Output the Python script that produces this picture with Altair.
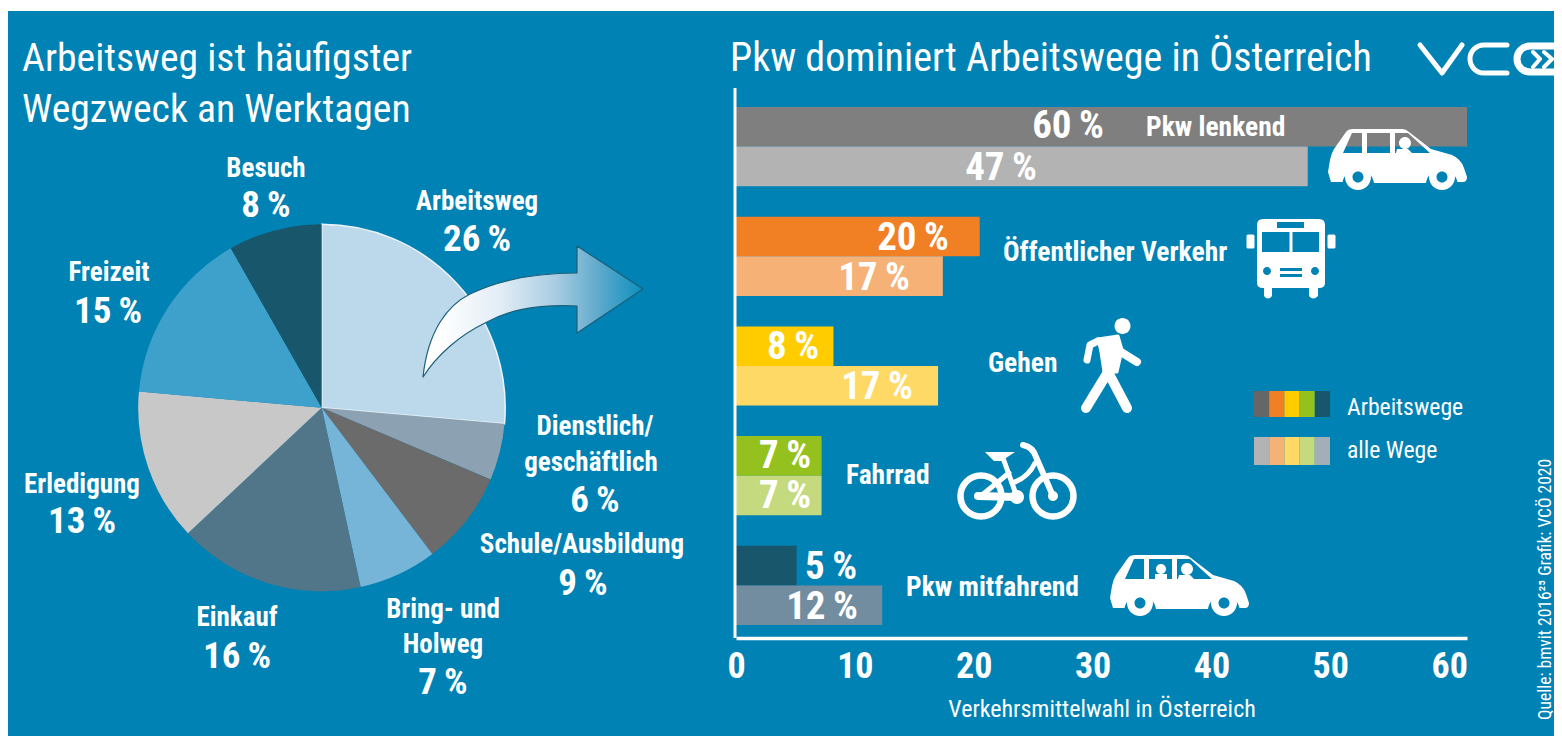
import altair as alt
import pandas as pd

BG = "#0082B4"
FONT = "Roboto Condensed, Roboto, sans-serif"
W = "#FFFFFF"
M = 8


def P(v):
    return v - M


# ---- pie data
slices = ["Arbeitsweg", "Dienstlich", "Schule", "Bring", "Einkauf", "Erledigung", "Freizeit", "Besuch"]
shares = [26.4, 5.0, 8.3, 6.9, 16.4, 13.4, 15.35, 8.25]
slice_colors = ["#BCD9EC", "#8CA2B2", "#6B6B6B", "#76B5D8", "#527689", "#C8C8C8", "#3DA1CC", "#18566C"]

# ---- bar data
modes = ["Pkw lenkend", "Öffentlicher Verkehr", "Gehen", "Fahrrad", "Pkw mitfahrend"]
kinds = ["Arbeitswege", "alle Wege"]
work_values = [61.5, 20.5, 8.2, 7.2, 5.1]
all_values = [48.1, 17.4, 17.0, 7.2, 12.3]
work_colors = ["#7F7F7F", "#F18024", "#FFCC00", "#95C11F", "#18566C"]
all_colors = ["#B3B3B3", "#F6B177", "#FFD966", "#C5D97E", "#728DA0"]
legend_work = ["#666666", "#F18024", "#FFCC00", "#95C11F", "#18566C"]
legend_all = ["#B3B3B3", "#F6B177", "#FFD966", "#C5D97E", "#A3AEB9"]
ticks = [0, 10, 20, 30, 40, 50, 60]

pie_df = pd.DataFrame({"key": slices, "share": shares, "idx": range(len(slices))})
bar_rows = []
for m, a, b in zip(modes, work_values, all_values):
    bar_rows.append({"mode": m, "kind": kinds[0], "value": a, "key": m + "|" + kinds[0]})
    bar_rows.append({"mode": m, "kind": kinds[1], "value": b, "key": m + "|" + kinds[1]})
bar_df = pd.DataFrame(bar_rows)

dom = slices + [m + "|" + k for m in modes for k in kinds]
rng = slice_colors + [c for p in zip(work_colors, all_colors) for c in p]
color_scale = alt.Scale(domain=dom, range=rng)


def txt(s, x, y, size, bold=False, align="left", angle=0):
    return alt.Chart().mark_text(
        text=s, font=FONT, fontSize=size, fontWeight="bold" if bold else "normal",
        color=W, align=align, baseline="alphabetic", angle=angle,
    ).encode(x=alt.value(P(x)), y=alt.value(P(y)))


def glyph(path, fill=None, stroke=None, sw=0, dx=0, dy=0, cap="round"):
    """Draws an SVG path written in image pixels (size 4 = scale 1)."""
    kw = dict(shape=path, size=4, opacity=1)
    if fill is not None:
        kw.update(filled=True, fill=fill)
    else:
        kw.update(filled=False, fill="transparent")
    if stroke is not None:
        kw.update(stroke=stroke, strokeWidth=sw, strokeCap=cap, strokeJoin="round")
    else:
        kw.update(strokeWidth=0)
    return alt.Chart().mark_point(**kw).encode(x=alt.value(P(dx)), y=alt.value(P(dy)))


def circ(x, y, r):
    return f"M{x-r} {y}A{r} {r} 0 1 1 {x+r} {y}A{r} {r} 0 1 1 {x-r} {y}Z"


layers = []

# top white strip
layers.append(alt.Chart().mark_rule(color=W, strokeWidth=6).encode(
    x=alt.value(0), x2=alt.value(1546), y=alt.value(0)))

# ---- pie
layers.append(alt.Chart(pie_df).mark_arc(outerRadius=183.5, stroke="#EAF4FA", strokeWidth=1.5).encode(
    theta=alt.Theta("share:Q", stack=True, scale=alt.Scale(domain=[0, 100], nice=False)),
    color=alt.Color("key:N", scale=color_scale, legend=None),
    order=alt.Order("idx:Q"),
    strokeOpacity=alt.condition("datum.key == 'Arbeitsweg'", alt.value(1), alt.value(0)),
    x=alt.value(P(321.7)), y=alt.value(P(407.7)),
))

# ---- arrow
arrow = alt.LinearGradient(
    gradient="linear", x1=0, x2=1, y1=0, y2=0,
    stops=[alt.GradientStop(color="#FFFFFF", offset=0.08),
           alt.GradientStop(color="#E2EDF6", offset=0.35),
           alt.GradientStop(color="#A9CDE2", offset=0.6),
           alt.GradientStop(color="#5FA9CC", offset=0.8),
           alt.GradientStop(color="#0A90BE", offset=1)])
layers.append(glyph("M423 377C428 330 448 305 470 294C505 277 545 273 577 273L577 246L643 289L577 333L577 306"
                    "C530 304 505 312 485 323C460 335 437 355 423 377Z",
                    fill=arrow, stroke="#1C5F78", sw=1.2))

# ---- bars and axis
layers.append(alt.Chart(bar_df).mark_bar().encode(
    x=alt.X("value:Q",
            scale=alt.Scale(domain=[0, 61.5], range=[P(736), P(1467)], nice=False, zero=True),
            axis=alt.Axis(values=ticks, grid=False, ticks=False, offset=P(638) - 728, domainColor=W, domainWidth=3.5,
                          labelColor=W, labelFont=FONT, labelFontWeight="bold", labelFontSize=36, labelPadding=11,
                          labelFlush=False, labelOverlap=False, labelBaseline="top", format="d",
                          title="Verkehrsmittelwahl in Österreich", titleColor=W, titleFont=FONT,
                          titleFontSize=24, titleFontWeight="normal", titlePadding=13)),
    y=alt.Y("mode:N", sort=modes,
            scale=alt.Scale(domain=modes, range=[P(107), P(625)], paddingInner=0.278, paddingOuter=0),
            axis=None),
    yOffset=alt.YOffset("kind:N", sort=kinds, scale=alt.Scale(domain=kinds, paddingInner=0, paddingOuter=0)),
    color=alt.Color("key:N", scale=color_scale, legend=None),
))
layers.append(alt.Chart().mark_rule(color=W, strokeWidth=3).encode(
    x=alt.value(P(735)), y=alt.value(P(88)), y2=alt.value(P(638))))

# ---- titles
layers += [
    txt("Arbeitsweg ist häufigster", 22, 71, 39.7),
    txt("Wegzweck an Werktagen", 22, 122, 39.7),
    txt("Pkw dominiert Arbeitswege in Österreich", 730, 71, 40),
]

# ---- pie labels
PCT = "\u2009%"
pie_labels = [
    ("Besuch", 266, 177), ("Arbeitsweg", 477, 210), ("Freizeit", 109, 281),
    ("Dienstlich/", 595, 435), ("geschäftlich", 591, 471), ("Schule/Ausbildung", 582, 553),
    ("Bring- und", 443, 618), ("Holweg", 443, 653), ("Einkauf", 237, 626), ("Erledigung", 82, 493),
]
pie_values = [
    ("8" + PCT, 266, 217), ("26" + PCT, 477, 251), ("15" + PCT, 108, 323), ("6" + PCT, 595, 512),
    ("9" + PCT, 583, 595), ("7" + PCT, 443, 694), ("16" + PCT, 237, 668), ("13" + PCT, 82, 533),
]
for s, x, y in pie_labels:
    layers.append(txt(s, x, y, 27, True, "center"))
for s, x, y in pie_values:
    layers.append(txt(s, x, y, 37, True, "center"))

# ---- bar labels
bar_values = [
    ("60" + PCT, 1068, 138), ("47" + PCT, 1001, 180), ("20" + PCT, 913, 250), ("17" + PCT, 874, 290),
    ("8" + PCT, 793, 359), ("17" + PCT, 877, 399), ("7" + PCT, 785, 468), ("7" + PCT, 785, 508),
    ("5" + PCT, 831, 579), ("12" + PCT, 822, 619),
]
for s, x, y in bar_values:
    layers.append(txt(s, x, y, 39, True, "center"))
cat_pos = [(1146, 136), (1003, 261), (988, 372), (846, 484), (906, 596)]
for s, (x, y) in zip(modes, cat_pos):
    layers.append(txt(s, x, y, 27.5, True))

# ---- legend
for cols, y0, y1, lab, by in [(legend_work, 391, 417, kinds[0], 415), (legend_all, 437, 465, kinds[1], 458)]:
    for i, c in enumerate(cols):
        layers.append(alt.Chart().mark_rect(color=c).encode(
            x=alt.value(P(1254 + i * 15.2)), x2=alt.value(P(1254 + (i + 1) * 15.2)),
            y=alt.value(P(y0)), y2=alt.value(P(y1))))
    layers.append(txt(lab, 1347, by, 23.7))

# ---- source
layers.append(txt("Quelle: bmvit 2016²⁵ Grafik: VCÖ 2020", 1551, 720, 17.5, False, "left", 270))

# ---- logo
layers.append(glyph("M1420 45L1442 73L1462 45", stroke=W, sw=5))
layers.append(glyph("M1507 45L1484 45A14 14 0 0 0 1484 73L1507 73", stroke=W, sw=5))
layers.append(glyph("M1570 46L1530 46A13 13 0 0 0 1530 72L1570 72", stroke=W, sw=7))
layers.append(glyph("M1533 52L1540 59L1533 67M1544 52L1552 59L1544 67", stroke=W, sw=4))

# ---- cars
WHEELS = circ(1358, 177, 13) + circ(1442, 177, 13)
BODY = ("M1331 182L1328 172L1330 160Q1331 154 1334 149L1346 132Q1348 129 1353 129L1402 129Q1406 129 1409 132L1431 149"
        "L1452 155Q1461 159 1464 168L1467 177Q1467 182 1463 182L1457.5 182A16 16 0 0 0 1426 183L1374 183"
        "A16 16 0 0 0 1342.5 182Z")
W1 = "M1343 153L1362 153L1362 133L1352 133Z"
W2 = "M1367 153L1390 153L1390 133L1367 133Z"
W3 = "M1395 153L1430 153L1408 133L1395 133Z"
CAR = BODY + W1 + W2 + W3
HUB = circ(1358, 177, 5.5) + circ(1442, 177, 5.5)
DRIVER = circ(1405, 143, 6) + "M1396 153L1397 149L1408 149L1412 153Z"
layers.append(glyph(CAR, fill=W))
layers.append(glyph(WHEELS, fill=W))
layers.append(glyph(HUB, fill=BG))
layers.append(glyph(DRIVER, fill=W))
c2x, c2y = -218, 426
layers.append(glyph(CAR, fill=W, dx=c2x, dy=c2y))
layers.append(glyph(WHEELS, fill=W, dx=c2x, dy=c2y))
layers.append(glyph(HUB, fill=BG, dx=c2x, dy=c2y))
layers.append(glyph(circ(1379, 143, 5) + "M1373 153L1373 148L1385 148L1385 153Z", fill=W, dx=c2x, dy=c2y))
layers.append(glyph(DRIVER, fill=W, dx=c2x, dy=c2y))

# ---- bus
layers.append(glyph("M1263 219L1319 219Q1325 219 1325 225L1325 283Q1325 288 1319 288L1263 288Q1257 288 1257 283L1257 225Q1257 219 1263 219Z", fill=W))
layers.append(glyph("M1248 236L1253 236L1253 247L1248 247ZM1329 236L1334 236L1334 247L1329 247Z", fill=W, stroke=W, sw=3))
layers.append(glyph("M1264 286L1272 286L1272 296Q1268 301 1264 296ZM1309 286L1318 286L1318 296Q1313 301 1309 296Z", fill=W))
layers.append(glyph("M1262 232L1289.5 232L1289.5 252L1262 252ZM1292.5 232L1319 232L1319 252L1292.5 252Z", fill=BG))
layers.append(glyph("M1277 222L1304 222L1304 228L1277 228Z", fill=BG))
layers.append(glyph(circ(1267, 271, 4) + circ(1315, 271, 4), fill=BG))
layers.append(glyph("M1280 268L1302 268L1302 271L1280 271ZM1280 274L1302 274L1302 277L1280 277Z", fill=BG))

# ---- walker
layers.append(glyph(circ(1122.5, 326, 8), fill=W))
layers.append(glyph("M1087 360L1090 345L1098 341", stroke=W, sw=7))
layers.append(glyph("M1098 339L1118 336L1122 350L1117 372L1104 372L1101 352Z", fill=W, stroke=W, sw=3))
layers.append(glyph("M1121 352L1137 362", stroke=W, sw=8))
layers.append(glyph("M1108 372L1086 408M1108 372L1127 408", stroke=W, sw=10))

# ---- bicycle
layers.append(glyph(circ(981, 496, 20.5) + circ(1053, 496, 20.5), stroke=W, sw=6.5))
layers.append(glyph(circ(1017, 497, 7) + circ(1053, 496, 5), fill=W))
layers.append(glyph("M978 496L1017 497", stroke=W, sw=8))
layers.append(glyph("M985 452L1015 452L1006 458L1002 461L994 461Z", fill=W))
layers.append(glyph("M1003 458L1017 497M1009 473L982 495", stroke=W, sw=5))
layers.append(glyph("M1023 445Q1033 447 1036 457L1053 496", stroke=W, sw=6))
layers.append(glyph("M1035 463Q1028 478 1012 483", stroke=W, sw=5))

chart = alt.layer(*layers).properties(
    width=1546, height=728, background=BG, padding=0,
    autosize=alt.AutoSizeParams(type="none", contains="padding"),
).configure_view(stroke=None)

chart.save("out.html", embed_options={"renderer": "svg", "actions": False})
